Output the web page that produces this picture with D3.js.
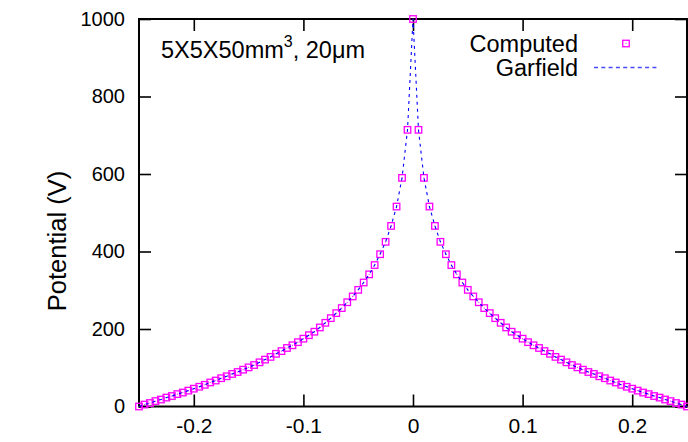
<!DOCTYPE html>
<html>
<head>
<meta charset="utf-8">
<script src="https://cdn.jsdelivr.net/npm/d3@7"></script>
<style>
  html, body { margin: 0; padding: 0; background: #fff; }
  svg { display: block; }
  text { font-family: "Liberation Sans", Arial, Helvetica, sans-serif; }
</style>
</head>
<body>
<svg id="chart" width="688" height="442"></svg>
<script>
// ---- data ----
const xValues = [
  -0.25, -0.245, -0.24, -0.235, -0.23, -0.225, -0.22, -0.215, -0.21, -0.205,
  -0.2, -0.195, -0.19, -0.185, -0.18, -0.175, -0.17, -0.165, -0.16, -0.155,
  -0.15, -0.145, -0.14, -0.135, -0.13, -0.125, -0.12, -0.115, -0.11, -0.105,
  -0.1, -0.095, -0.09, -0.085, -0.08, -0.075, -0.07, -0.065, -0.06, -0.055,
  -0.05, -0.045, -0.04, -0.035, -0.03, -0.025, -0.02, -0.015, -0.01, -0.005,
  0,
  0.005, 0.01, 0.015, 0.02, 0.025, 0.03, 0.035, 0.04, 0.045, 0.05,
  0.055, 0.06, 0.065, 0.07, 0.075, 0.08, 0.085, 0.09, 0.095, 0.1,
  0.105, 0.11, 0.115, 0.12, 0.125, 0.13, 0.135, 0.14, 0.145, 0.15,
  0.155, 0.16, 0.165, 0.17, 0.175, 0.18, 0.185, 0.19, 0.195, 0.2,
  0.205, 0.21, 0.215, 0.22, 0.225, 0.23, 0.235, 0.24, 0.245, 0.25
];

const computedValues = [
  0, 5, 9, 14, 18, 23, 27, 32, 36, 41,
  46, 51, 56, 62, 67, 73, 78, 84, 89, 95,
  101, 107, 114, 121, 128, 136, 143, 151, 158, 166,
  175, 184, 193, 204, 216, 228, 241, 254, 269, 284,
  301, 320, 341, 365, 393, 425, 466, 516, 590, 714,
  1000,
  714, 590, 516, 466, 425, 393, 365, 341, 320, 301,
  284, 269, 254, 241, 228, 216, 204, 193, 184, 175,
  166, 158, 151, 143, 136, 128, 121, 114, 107, 101,
  95, 89, 84, 78, 73, 67, 62, 56, 51, 46,
  41, 36, 32, 27, 23, 18, 14, 9, 5, 0
];

const garfieldValues = [
  0, 5, 9, 14, 18, 23, 27, 32, 36, 41,
  46, 51, 56, 62, 67, 73, 78, 84, 89, 95,
  101, 107, 114, 121, 128, 136, 143, 151, 158, 166,
  175, 184, 193, 204, 216, 228, 241, 254, 269, 284,
  301, 320, 341, 365, 393, 425, 466, 516, 590, 714,
  1000,
  714, 590, 516, 466, 425, 393, 365, 341, 320, 301,
  284, 269, 254, 241, 228, 216, 204, 193, 184, 175,
  166, 158, 151, 143, 136, 128, 121, 114, 107, 101,
  95, 89, 84, 78, 73, 67, 62, 56, 51, 46,
  41, 36, 32, 27, 23, 18, 14, 9, 5, 0
];

const xTicks = [-0.2, -0.1, 0, 0.1, 0.2];
const xTickLabels = ["-0.2", "-0.1", "0", "0.1", "0.2"];
const yTicks = [0, 200, 400, 600, 800, 1000];
const yTickLabels = ["0", "200", "400", "600", "800", "1000"];
const seriesNames = ["Computed", "Garfield"];
const yAxisTitle = "Potential (V)";

// ---- layout ----
const plotL = 139, plotR = 687, plotT = 19, plotB = 406.5;
const xTickFont = 21;
const yTickFont = 20;
const textFont = 23.5;

const svg = d3.select("#chart");
const x = d3.scaleLinear().domain([-0.25, 0.25]).range([plotL, plotR]);
const y = d3.scaleLinear().domain([0, 1000]).range([plotB, plotT]);

function styleAxis(g, size) {
  g.select(".domain").remove();
  g.selectAll(".tick line").attr("stroke", "#000").attr("stroke-width", 1.6);
  g.selectAll(".tick text").attr("fill", "#000")
    .style("font-size", size + "px")
    .style("font-family", '"Liberation Sans", Arial, Helvetica, sans-serif');
}

svg.append("g").attr("transform", `translate(0,${plotB})`)
  .call(d3.axisBottom(x).tickValues(xTicks)
    .tickFormat((d, i) => xTickLabels[i]).tickSize(-12).tickPadding(12))
  .call(g => styleAxis(g, xTickFont));

svg.append("g").attr("transform", `translate(0,${plotT})`)
  .call(d3.axisTop(x).tickValues(xTicks).tickFormat("").tickSize(-12))
  .call(g => styleAxis(g, xTickFont));

svg.append("g").attr("transform", `translate(${plotL},0)`)
  .call(d3.axisLeft(y).tickValues(yTicks)
    .tickFormat((d, i) => yTickLabels[i]).tickSize(-12).tickPadding(14))
  .call(g => styleAxis(g, yTickFont));

svg.append("g").attr("transform", `translate(${plotR},0)`)
  .call(d3.axisRight(y).tickValues(yTicks).tickFormat("").tickSize(-12))
  .call(g => styleAxis(g, yTickFont));

// frame
svg.append("rect")
  .attr("x", plotL).attr("y", plotT)
  .attr("width", plotR - plotL).attr("height", plotB - plotT)
  .attr("fill", "none").attr("stroke", "#000").attr("stroke-width", 2);

// y axis title
svg.append("text")
  .attr("transform", `translate(66,241) rotate(-90)`)
  .attr("text-anchor", "middle")
  .style("font-size", "25.5px")
  .text(yAxisTitle);

// annotation
const ann = svg.append("text")
  .attr("x", 161).attr("y", 58)
  .style("font-size", textFont + "px");
ann.append("tspan").text("5X5X50mm");
ann.append("tspan").attr("dy", -11).style("font-size", "16px").text("3");
ann.append("tspan").attr("dy", 11).text(", 20\u03bcm");

// computed points
const pts = xValues.map((d, i) => ({ x: d, v: computedValues[i] }));
const box = 6.5;
const markerG = svg.append("g");
markerG.selectAll("rect").data(pts).join("rect")
  .attr("x", d => x(d.x) - box / 2)
  .attr("y", d => y(d.v) - box / 2)
  .attr("width", box).attr("height", box)
  .attr("fill", "none").attr("stroke", "#ff00ff").attr("stroke-width", 1.3);
markerG.selectAll("circle").data(pts).join("circle")
  .attr("cx", d => x(d.x)).attr("cy", d => y(d.v)).attr("r", 0.6)
  .attr("fill", "#ff00ff");

// garfield line
const line = d3.line().x((d, i) => x(xValues[i])).y(d => y(d));
svg.append("path")
  .datum(garfieldValues)
  .attr("d", line)
  .attr("fill", "none").attr("stroke", "#0000ff")
  .attr("stroke-width", 1.1).attr("stroke-dasharray", "3,4");

// legend
svg.append("text").attr("x", 578).attr("y", 52).attr("text-anchor", "end")
  .style("font-size", textFont + "px").text(seriesNames[0]);
svg.append("text").attr("x", 578).attr("y", 76).attr("text-anchor", "end")
  .style("font-size", textFont + "px").text(seriesNames[1]);
svg.append("rect")
  .attr("x", 626 - box / 2).attr("y", 43.5 - box / 2)
  .attr("width", box).attr("height", box)
  .attr("fill", "none").attr("stroke", "#ff00ff").attr("stroke-width", 1.3);
svg.append("circle").attr("cx", 626).attr("cy", 43.5).attr("r", 0.6).attr("fill", "#ff00ff");
svg.append("line")
  .attr("x1", 594).attr("x2", 659).attr("y1", 67.5).attr("y2", 67.5)
  .attr("stroke", "#2a2aff").attr("stroke-width", 1.4).attr("stroke-dasharray", "4,3.3")
  .attr("opacity", 0.85);
</script>
</body>
</html>
